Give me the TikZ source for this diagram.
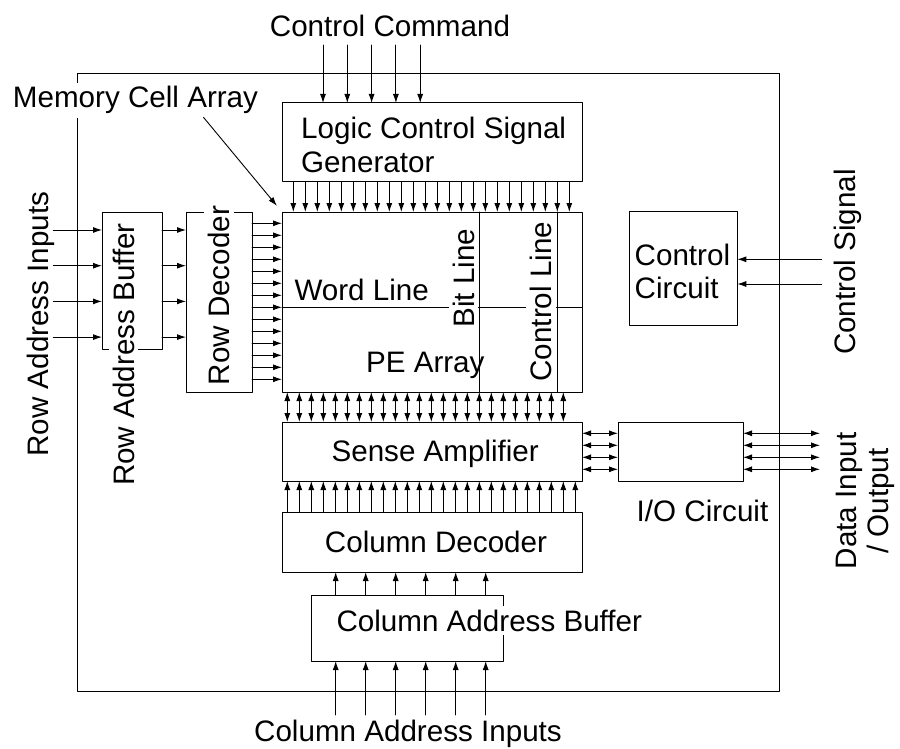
\documentclass[tikz,border=0pt]{standalone}
\usepackage{fontspec}
\setmainfont{Liberation Sans}
\usetikzlibrary{arrows.meta,calc}

\begin{document}
\begin{tikzpicture}[x=1pt,y=-1pt,line cap=round,line join=round,
  >={Latex[length=9pt,width=6pt]},
  font=\fontsize{29.6}{33.4}\selectfont,
  box/.style={draw,line width=1pt,inner sep=0pt,outer sep=0pt},
  wire/.style={line width=0.9pt},
  lbl/.style={fill=white,inner sep=4pt}]
  \useasboundingbox (0,0) rectangle (900,749);
  \node[box,minimum width=701.8pt,minimum height=618.4pt] (chip) at (428.6,382.5) {};
  \node[box,minimum width=300pt,minimum height=79pt] (logic) at (432,142.5) {};
  \node[box,minimum width=300pt,minimum height=180pt] (pe) at (432,302) {};
  \node[box,minimum width=300pt,minimum height=59pt] (sa) at (432,451.5) {};
  \node[box,minimum width=300pt,minimum height=60pt] (coldec) at (432,542) {};
  \node[box,minimum width=191.6pt,minimum height=66pt] (colbuf) at (407.5,628) {};
  \node[box,minimum width=66pt,minimum height=180pt] (rowdec) at (219,302) {};
  \node[box,minimum width=60pt,minimum height=137pt] (rowbuf) at (132,280.5) {};
  \node[box,minimum width=125pt,minimum height=59pt] (io) at (680.5,451.5) {};
  \node[box,minimum width=108pt,minimum height=114pt] (ctrl) at (683.3,268.7) {};
  \draw[line width=1pt] ($(pe.north west)+(197.3,0)$) -- ($(pe.south west)+(197.3,0)$);
  \draw[line width=1pt] ($(pe.north west)+(275.3,0)$) -- ($(pe.south west)+(275.3,0)$);
  \draw[line width=1pt] ($(pe.north west)+(0,95.7)$) -- ($(pe.north east)+(0,95.7)$);
  \foreach \i in {0,...,4}
    \draw[wire,->] ($(logic.north west)+(41+24.3*\i,-58)$) -- ($(logic.north west)+(41+24.3*\i,0)$);
  \foreach \i in {0,...,23}
    \draw[wire,->] ($(logic.south west)+(11.3+12*\i,0)$) -- ($(pe.north west)+(11.3+12*\i,0)$);
  \foreach \i in {0,...,13}
    \draw[wire,->] ($(rowdec.north east)+(0,11.3+12*\i)$) -- ($(pe.north west)+(0,11.3+12*\i)$);
  \foreach \i in {0,...,23}
    \draw[wire,<->] ($(pe.south west)+(5.3+12*\i,0)$) -- ($(sa.north west)+(5.3+12*\i,0)$);
  \foreach \i in {0,...,24}
    \draw[wire,->] ($(coldec.north west)+(5.3+12*\i,0)$) -- ($(sa.south west)+(5.3+12*\i,0)$);
  \foreach \i in {0,...,5}{
    \draw[wire,->] ($(colbuf.north west)+(24+30*\i,0)$) -- ($(colbuf.north west |- coldec.south)+(24+30*\i,0)$);
    \draw[wire,->] ($(colbuf.south west)+(24+30*\i,54)$) -- ($(colbuf.south west)+(24+30*\i,0)$);
  }
  \foreach \i in {0,...,3}{
    \draw[wire,->] ($(rowbuf.north west)+(-48.7,18+35.7*\i)$) -- ($(rowbuf.north west)+(0,18+35.7*\i)$);
    \draw[wire,->] ($(rowbuf.north east)+(0,18+35.7*\i)$) -- ($(rowdec.north west)+(0,18+35.7*\i)$);
  }
  \foreach \i in {0,...,3}{
    \draw[wire,<->] ($(sa.north east)+(0,11.3+12*\i)$) -- ($(io.north west)+(0,11.3+12*\i)$);
    \draw[wire,<->] ($(io.north east)+(0,11.3+12*\i)$) -- ($(io.north east)+(77,11.3+12*\i)$);
  }
  \foreach \dy in {47.6,72.3}
    \draw[wire,->] ($(ctrl.north east)+(84.4,\dy)$) -- ($(ctrl.north east)+(0,\dy)$);
  \node[anchor=base] (cmd) at (390,37) {Control Command};
  \node[lbl,anchor=base] (mca) at (135.5,108) {Memory Cell Array};
  \draw[wire,->,shorten >=8pt] ($(mca.south)+(68,-1)$) -- (pe.north west);
  \node[anchor=north west,align=left,inner sep=0pt] (logictxt) at (301,117.1) {Logic Control Signal\\Generator};
  \node[rotate=90,anchor=base] (rowin) at (48.5,324) {Row Address Inputs};
  \node[lbl,rotate=90,anchor=base] (rowbuftxt) at (134,354.5) {Row Address Buffer};
  \node[lbl,rotate=90,anchor=base] (rowdectxt) at (229.5,295.7) {Row Decoder};
  \node[anchor=base] (wordtxt) at (361.7,300) {Word Line};
  \node[lbl,rotate=90,anchor=base] (bittxt) at (474,278) {Bit Line};
  \node[lbl,rotate=90,anchor=base] (ctrllinetxt) at (551.5,301.7) {Control Line};
  \node[anchor=base] (petxt) at (425.3,372.7) {PE Array};
  \node[anchor=base] (satxt) at (435.2,461.7) {Sense Amplifier};
  \node[anchor=base] (coldectxt) at (436,552.7) {Column Decoder};
  \node[lbl,anchor=base] (colbuftxt) at (489.3,631) {Column Address Buffer};
  \node[anchor=base] (colin) at (408,741.7) {Column Address Inputs};
  \node[anchor=base] (iotxt) at (702.5,521.7) {I/O Circuit};
  \node[anchor=north west,align=left,inner sep=0pt] (ctrltxt) at (634.5,243.5) {Control\\Circuit};
  \node[rotate=90,anchor=base] (ctrlsig) at (855,262) {Control Signal};
  \node[rotate=90,align=center,inner sep=0pt,font=\fontsize{29.6}{32.5}\selectfont] (dataio) at (865.6,501) {Data Input\\/ Output};
\end{tikzpicture}
\end{document}
